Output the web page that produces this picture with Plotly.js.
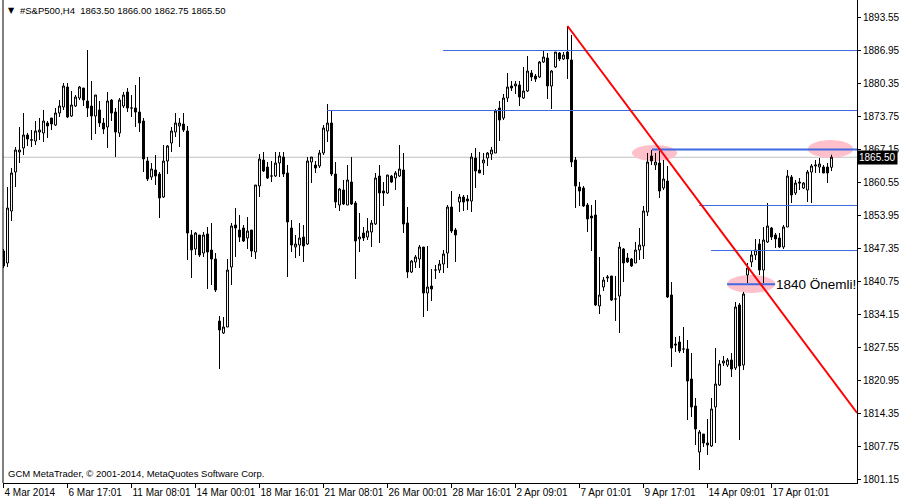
<!DOCTYPE html>
<html>
<head>
<meta charset="utf-8">
<script src="https://cdn.plot.ly/plotly-3.0.1.min.js"></script>
<style>html,body{margin:0;padding:0;background:#fff;}#chart{width:900px;height:500px;}</style>
</head>
<body>
<div id="chart"></div>
<script>
// ---- Data (H4 bars, #S&P500) ----
const symbol = '#S&P500,H4';
const openP = [
1846.75,1844.35,1854.75,1862.55,1866.55,1867.35,1869.95,1868.90,1868.75,1870.55,
1870.35,1872.35,1873.35,1871.95,1874.35,1875.55,1879.55,1873.75,1875.75,1877.35,
1879.35,1876.75,1875.75,1873.75,1874.95,1872.35,1871.55,1876.95,1874.55,1870.35,
1875.75,1878.55,1875.35,1875.35,1874.55,1872.75,1864.75,1861.55,1862.95,1862.15,
1857.55,1864.75,1868.35,1870.55,1871.75,1872.15,1870.75,1849.95,1847.15,1849.95,
1846.35,1850.15,1846.95,1845.15,1832.75,1830.35,1831.55,1843.55,1851.95,1850.95,
1851.35,1849.35,1850.95,1846.55,1859.75,1864.95,1863.55,1861.75,1861.75,1864.35,
1865.55,1862.35,1851.35,1847.55,1847.95,1849.55,1848.15,1864.55,1863.95,1863.75,
1866.35,1870.75,1872.35,1862.15,1855.95,1858.95,1855.95,1860.55,1856.35,1849.15,
1850.35,1849.55,1850.55,1852.15,1861.75,1858.75,1858.35,1861.75,1861.35,1861.75,
1862.95,1852.35,1842.55,1844.55,1845.15,1847.55,1838.35,1839.75,1842.95,1842.95,
1844.15,1846.35,1855.55,1850.95,1856.55,1857.55,1857.15,1856.75,1865.35,1862.95,
1864.35,1865.35,1866.15,1866.35,1875.35,1873.35,1877.35,1879.75,1879.75,1879.95,
1877.35,1878.75,1882.35,1881.75,1881.55,1884.55,1885.35,1879.75,1883.55,1886.35,
1885.15,1886.55,1884.95,1864.95,1859.55,1859.35,1855.95,1853.75,1853.95,1835.75,
1839.55,1841.35,1841.75,1837.15,1837.75,1847.15,1845.35,1845.15,1844.35,1846.95,
1847.75,1854.55,1865.75,1863.95,1864.35,1859.35,1860.75,1837.95,1828.15,1828.55,
1827.15,1827.15,1821.15,1815.75,1806.55,1810.15,1808.35,1807.75,1815.55,1819.95,
1824.35,1823.95,1824.95,1823.35,1835.95,1823.95,1841.95,1844.55,1845.95,1848.15,
1842.95,1848.55,1851.35,1849.95,1849.35,1847.55,1851.55,1861.55,1858.35,1860.55,
1859.35,1858.95,1862.55,1863.75,1863.55,1863.55,1863.55,1863.50];
const highP = [
1847.15,1859.55,1863.35,1867.55,1871.55,1874.35,1870.35,1870.95,1872.75,1873.35,
1874.95,1872.75,1873.35,1875.35,1876.95,1880.35,1880.35,1878.75,1877.95,1879.75,
1879.35,1886.95,1880.75,1877.95,1876.75,1873.35,1878.55,1877.15,1875.35,1877.35,
1878.55,1879.35,1877.95,1879.95,1881.55,1873.35,1865.55,1864.35,1865.95,1862.55,
1867.95,1867.95,1871.55,1874.35,1873.35,1874.35,1871.75,1850.95,1850.55,1849.95,
1850.55,1851.55,1852.35,1846.35,1833.75,1833.55,1845.15,1852.35,1855.35,1853.95,
1851.95,1853.55,1850.95,1859.95,1866.15,1866.55,1864.55,1864.75,1866.55,1866.55,
1866.55,1863.95,1852.95,1849.95,1852.35,1851.95,1865.55,1865.55,1864.75,1866.95,
1871.95,1876.15,1874.95,1864.55,1859.35,1860.95,1863.95,1865.55,1856.75,1854.35,
1851.55,1853.35,1852.95,1862.35,1863.95,1860.55,1861.95,1861.95,1862.75,1867.95,
1866.35,1855.55,1844.95,1845.95,1847.95,1847.55,1847.75,1843.15,1843.95,1844.95,
1846.95,1855.95,1858.75,1851.35,1858.15,1857.95,1857.95,1866.35,1867.35,1866.55,
1866.35,1866.55,1867.55,1875.15,1876.75,1878.15,1882.35,1880.75,1880.75,1880.75,
1883.55,1885.75,1882.95,1882.15,1884.75,1886.75,1886.35,1882.95,1886.55,1886.55,
1886.55,1891.75,1889.95,1865.55,1860.55,1859.75,1856.35,1855.95,1856.95,1845.55,
1841.55,1841.95,1841.75,1841.75,1848.55,1847.35,1846.35,1845.35,1848.55,1851.35,
1855.75,1866.35,1866.95,1866.35,1866.75,1864.95,1863.75,1840.55,1829.55,1829.75,
1831.55,1828.95,1826.35,1817.35,1810.95,1810.15,1813.15,1817.35,1827.35,1824.95,
1825.75,1825.35,1826.35,1836.55,1836.35,1838.55,1844.35,1846.95,1849.15,1849.15,
1851.55,1856.35,1851.55,1850.35,1850.35,1851.95,1862.95,1861.95,1860.95,1861.35,
1860.55,1862.95,1864.15,1864.95,1865.35,1863.95,1864.35,1866.00];
const lowP = [
1843.35,1843.55,1852.75,1859.55,1864.35,1865.95,1867.75,1867.55,1867.95,1868.95,
1868.55,1869.35,1870.95,1871.75,1873.55,1874.95,1873.35,1873.55,1875.55,1876.95,
1875.75,1873.55,1868.95,1870.15,1871.55,1870.15,1867.35,1872.75,1865.55,1869.55,
1875.35,1874.55,1873.55,1871.55,1870.55,1862.55,1860.75,1860.95,1859.95,1853.35,
1857.35,1862.15,1866.55,1869.55,1867.55,1870.55,1844.95,1841.35,1845.95,1845.55,
1845.55,1839.15,1839.95,1838.55,1823.15,1830.15,1831.55,1839.95,1845.55,1848.55,
1848.55,1847.15,1845.55,1845.15,1857.55,1862.55,1861.15,1860.55,1861.55,1861.55,
1861.55,1841.55,1846.55,1845.35,1845.75,1844.55,1847.95,1860.35,1862.35,1863.35,
1865.95,1868.55,1861.75,1855.35,1854.75,1855.95,1855.95,1855.95,1841.15,1846.55,
1848.75,1848.95,1847.55,1851.95,1848.35,1855.75,1858.15,1860.35,1858.95,1861.55,
1850.35,1841.35,1842.35,1843.35,1843.35,1833.55,1834.75,1836.75,1841.15,1842.35,
1842.35,1843.35,1850.35,1844.55,1854.55,1854.75,1854.95,1854.55,1859.35,1862.35,
1861.95,1863.75,1864.95,1866.35,1868.75,1872.95,1876.55,1878.75,1878.15,1875.75,
1877.15,1878.55,1880.75,1880.55,1881.35,1884.35,1877.15,1875.15,1883.35,1884.75,
1884.95,1881.15,1863.55,1855.35,1855.75,1855.55,1850.55,1846.75,1835.75,1834.15,
1838.75,1840.55,1836.75,1832.75,1830.35,1840.55,1844.35,1843.55,1844.35,1844.95,
1845.15,1853.75,1863.95,1862.95,1857.35,1858.95,1837.35,1823.55,1826.55,1826.35,
1826.35,1812.95,1813.55,1807.95,1802.95,1807.55,1805.95,1807.55,1808.35,1819.75,
1823.75,1823.55,1821.55,1822.95,1808.95,1822.95,1840.35,1843.55,1844.95,1841.95,
1840.35,1848.35,1848.95,1847.35,1847.35,1847.15,1851.55,1856.35,1857.95,1858.95,
1859.15,1856.55,1856.35,1862.35,1862.35,1862.35,1860.35,1862.75];
const closeP = [
1843.75,1855.35,1862.35,1866.95,1866.95,1869.95,1869.15,1869.00,1870.75,1870.95,
1872.75,1871.75,1872.15,1874.35,1875.75,1879.75,1873.55,1875.95,1877.55,1879.55,
1876.95,1875.35,1873.75,1877.95,1872.35,1871.15,1876.75,1874.35,1870.55,1876.95,
1877.95,1875.35,1875.35,1874.55,1872.35,1865.15,1861.15,1863.15,1861.75,1857.35,
1864.75,1867.75,1870.75,1872.35,1872.35,1870.95,1850.35,1846.95,1850.35,1845.95,
1849.95,1846.55,1845.15,1838.95,1830.95,1831.55,1842.95,1851.75,1851.35,1849.55,
1848.75,1850.75,1846.75,1859.95,1865.15,1862.75,1861.35,1861.75,1864.35,1865.75,
1862.15,1852.55,1847.95,1848.15,1849.35,1847.75,1864.75,1865.55,1863.35,1866.35,
1871.35,1872.35,1862.15,1856.55,1859.15,1856.15,1860.95,1856.15,1848.75,1849.55,
1849.35,1850.75,1852.35,1861.35,1858.35,1858.35,1861.95,1860.55,1862.35,1863.15,
1852.15,1842.55,1844.75,1845.55,1847.55,1838.35,1839.55,1839.15,1842.95,1844.15,
1846.15,1855.55,1850.75,1849.95,1857.55,1856.55,1856.75,1865.55,1862.75,1862.35,
1864.95,1866.35,1866.95,1874.75,1872.95,1877.35,1879.55,1879.35,1880.15,1877.55,
1878.75,1882.75,1881.55,1881.15,1884.55,1885.55,1879.75,1882.75,1886.55,1885.15,
1885.95,1885.15,1864.55,1859.75,1858.75,1855.75,1853.15,1853.35,1835.95,1837.95,
1840.95,1841.55,1836.95,1837.15,1847.55,1844.35,1844.55,1843.75,1846.95,1847.95,
1854.75,1864.55,1864.75,1864.55,1858.75,1861.15,1837.55,1827.35,1827.95,1826.75,
1827.15,1820.75,1815.55,1811.15,1810.55,1808.35,1807.95,1815.15,1820.15,1824.15,
1824.75,1824.95,1823.15,1835.55,1823.75,1838.15,1843.35,1845.95,1846.95,1842.95,
1848.95,1851.75,1849.55,1849.15,1847.55,1851.55,1861.75,1857.95,1860.35,1860.35,
1860.35,1862.55,1863.75,1863.95,1864.15,1862.35,1862.35,1865.50];

// time-axis labels (every 16 bars)
const timeTickBars = [0,16,32,48,64,80,96,112,128,144,160,176,192];
const timeTickLabels = ['4 Mar 2014','6 Mar 17:01','11 Mar 08:01','14 Mar 00:01','18 Mar 16:01',
  '21 Mar 08:01','26 Mar 00:01','28 Mar 16:01','2 Apr 09:01','7 Apr 01:01','9 Apr 17:01',
  '14 Apr 09:01','17 Apr 01:01'];
// price-axis labels
const priceTicks = [1801.15,1807.75,1814.35,1820.95,1827.55,1834.15,1840.75,1847.35,1853.95,1860.55,1867.15,1873.75,1880.35,1886.95,1893.55];
// drawn objects: horizontal levels (start bar, price)
const levelStart = [109.9, 80.9, 162.1, 173.9, 176.9];
const levelPrice = [1886.85, 1874.85, 1867.05, 1855.85, 1846.85];
const keyLevel = 1840.1;          // "1840 Önemli!"
const keyLabel = '1840 Önemli!';
const trendStart = {bar:141, price:1891.75};
const trendEnd = {bar:213.4, price:1814.35};

const bars = openP.map((_, i) => i);
const last = openP.length - 1;
const FONT = 'Tahoma, "Liberation Sans", Arial, sans-serif';

const trace = {
  type: 'candlestick',
  x: bars, open: openP, high: highP, low: lowP, close: closeP,
  increasing: {line: {color: '#000', width: 1}, fillcolor: '#ffffff'},
  decreasing: {line: {color: '#000', width: 1}, fillcolor: '#000000'},
  whiskerwidth: 0,
  hoverinfo: 'skip'
};

const shapes = [];
const PINK = '#FFC0CB', BLUE = '#4169E1';
// pink ellipses (below)
[[157.1,168.4,1864.75,1867.95],[201.1,212.4,1865.35,1868.95],[180.9,192.9,1838.35,1841.95]].forEach(e=>{
  shapes.push({type:'circle', xref:'x', yref:'y', x0:e[0], x1:e[1], y0:e[2], y1:e[3],
    fillcolor:PINK, line:{width:0}, layer:'below'});
});
// current price line
shapes.push({type:'line', xref:'paper', yref:'y', x0:0, x1:1, y0:closeP[last], y1:closeP[last],
  line:{color:'#C0C0C0', width:1}, layer:'below'});
// blue levels
levelStart.forEach((s, k) => {
  shapes.push({type:'line', xref:'x', yref:'y', x0:s, x1:230, y0:levelPrice[k], y1:levelPrice[k],
    line:{color:BLUE, width:(k===2?2:1)}});
});
shapes.push({type:'line', xref:'x', yref:'y', x0:180.9, x1:192.9, y0:keyLevel, y1:keyLevel,
  line:{color:BLUE, width:2}});
// red trend line
shapes.push({type:'line', xref:'x', yref:'y', x0:trendStart.bar, x1:trendEnd.bar,
  y0:trendStart.price, y1:trendEnd.price, line:{color:'#FF0000', width:2}});
// left frame
shapes.push({type:'line', xref:'paper', yref:'paper', x0:0, x1:0, y0:0, y1:1, line:{color:'#000', width:1}});

const header = symbol + '\u00a0\u00a0' + [openP[last], highP[last], lowP[last], closeP[last]].map(v=>v.toFixed(2)).join(' ');

const annotations = [
  {xref:'paper', yref:'paper', x:0.003, y:0.979, xanchor:'left', yanchor:'middle', text:'\u25BC',
    showarrow:false, font:{family:'DejaVu Sans', size:8, color:'#000'}},
  {xref:'paper', yref:'paper', x:0.0176, y:0.979, xanchor:'left', yanchor:'middle', text:header,
    showarrow:false, font:{family:FONT, size:9.5, color:'#000'}},
  {xref:'paper', yref:'paper', x:0.004, y:0.0207, xanchor:'left', yanchor:'middle',
    text:'GCM MetaTrader, \u00a9 2001-2014, MetaQuotes Software Corp.',
    showarrow:false, font:{family:FONT, size:9.5, color:'#000'}},
  {xref:'x', yref:'y', x:192.6, y:keyLevel, xanchor:'left', yanchor:'middle', text:keyLabel,
    showarrow:false, font:{family:'"Liberation Sans", Arial, sans-serif', size:13.5, color:'#000'}},
  {xref:'paper', yref:'y', x:1, y:closeP[last], xanchor:'left', yanchor:'middle', text:closeP[last].toFixed(2),
    showarrow:false, bgcolor:'#000', borderpad:1, font:{family:FONT, size:10, color:'#fff'}}
];

const layout = {
  width:900, height:500,
  margin:{l:3, r:43, t:0, b:17, pad:0},
  paper_bgcolor:'#fff', plot_bgcolor:'#fff',
  showlegend:false,
  font:{family:FONT, size:10, color:'#000'},
  xaxis:{
    type:'linear', range:[-0.125, 213.375], showgrid:false, zeroline:false,
    showline:true, linecolor:'#000', linewidth:1,
    ticks:'outside', ticklen:4, tickcolor:'#000', tickwidth:1,
    tickvals:timeTickBars, ticktext:timeTickLabels, ticklabelposition:'outside right',
    tickangle:0, automargin:false,
    tickfont:{family:FONT, size:10, color:'#000'},
    rangeslider:{visible:false}, fixedrange:true
  },
  yaxis:{
    side:'right', range:[1800.35, 1896.95], showgrid:false, zeroline:false,
    showline:true, linecolor:'#000', linewidth:1,
    ticks:'outside', ticklen:3, tickcolor:'#000', automargin:false,
    tickvals:priceTicks, ticktext:priceTicks.map(v=>v.toFixed(2)),
    tickfont:{family:FONT, size:10, color:'#000'}, fixedrange:true
  },
  shapes:shapes,
  annotations:annotations
};

Plotly.newPlot('chart', [trace], layout, {staticPlot:true, displayModeBar:false});
</script>
</body>
</html>
